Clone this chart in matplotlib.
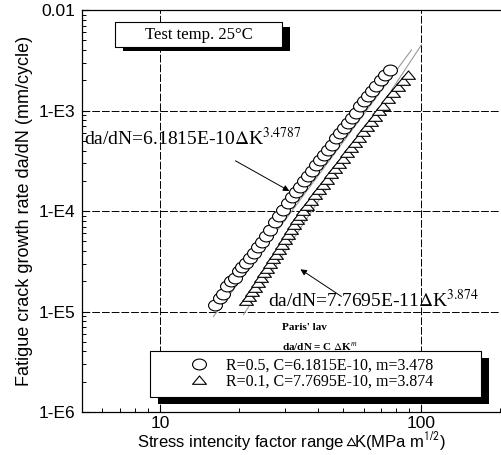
import matplotlib
matplotlib.use('Agg')
import matplotlib.pyplot as plt
from matplotlib.path import Path
from matplotlib.transforms import Affine2D
from matplotlib.patches import Rectangle
from matplotlib.lines import Line2D
from matplotlib.ticker import FixedLocator, FixedFormatter, LogLocator, NullFormatter

# R=0.5 test points (circles)
dk_r05 = [16.25, 16.98, 17.44, 18.06, 18.71, 19.39, 20.08, 20.62, 21.36, 22.12,
          22.92, 23.75, 24.60, 25.48, 26.40, 27.58, 28.58, 29.60, 30.93, 32.04,
          33.19, 34.39, 35.62, 36.90, 38.23, 39.60, 41.02, 42.50, 44.03, 45.60,
          47.24, 48.94, 50.70, 52.52, 54.40, 56.36, 58.39, 60.48, 62.66, 64.91,
          67.24, 70.27, 72.79, 76.06]
rate_r05 = [1.17e-5, 1.35e-5, 1.51e-5, 1.78e-5, 2.00e-5, 2.14e-5, 2.51e-5, 2.75e-5, 3.02e-5, 3.39e-5,
            3.80e-5, 4.37e-5, 4.90e-5, 5.62e-5, 6.46e-5, 7.76e-5, 8.91e-5, 1.02e-4, 1.20e-4, 1.38e-4,
            1.55e-4, 1.74e-4, 2.00e-4, 2.24e-4, 2.51e-4, 2.88e-4, 3.24e-4, 3.63e-4, 4.07e-4, 4.57e-4,
            5.37e-4, 6.03e-4, 6.76e-4, 7.59e-4, 8.51e-4, 9.55e-4, 1.10e-3, 1.23e-3, 1.38e-3, 1.55e-3,
            1.74e-3, 2.00e-3, 2.24e-3, 2.51e-3]

# R=0.1 test points (triangles)
dk_r01 = [21.36, 21.93, 22.52, 23.12, 23.75, 24.38, 25.03, 25.70, 26.40, 27.10,
          27.83, 28.58, 29.34, 30.13, 30.93, 31.76, 32.61, 33.49, 34.39, 35.31,
          36.58, 37.89, 39.26, 40.66, 42.12, 43.63, 45.20, 46.82, 48.51, 50.25,
          52.05, 53.92, 55.86, 57.87, 59.95, 62.10, 64.33, 66.64, 69.04, 71.51,
          74.73, 78.10, 81.63, 85.31, 89.17]
rate_r01 = [1.26e-5, 1.38e-5, 1.55e-5, 1.70e-5, 1.91e-5, 2.14e-5, 2.40e-5, 2.63e-5, 2.95e-5, 3.31e-5,
            3.63e-5, 4.07e-5, 4.57e-5, 5.13e-5, 5.75e-5, 6.46e-5, 7.24e-5, 8.13e-5, 8.91e-5, 1.00e-4,
            1.12e-4, 1.26e-4, 1.45e-4, 1.62e-4, 1.82e-4, 2.04e-4, 2.34e-4, 2.63e-4, 2.95e-4, 3.31e-4,
            3.80e-4, 4.27e-4, 4.79e-4, 5.37e-4, 6.17e-4, 6.92e-4, 7.76e-4, 8.71e-4, 1.00e-3, 1.12e-3,
            1.29e-3, 1.48e-3, 1.70e-3, 1.95e-3, 2.24e-3]

# fitted Paris-law lines (end points)
fit_r05_dk = [15.96, 91.6]
fit_r05_rate = [8.9e-6, 4.0e-3]
fit_r01_dk = [20.8, 100.0]
fit_r01_rate = [9.3e-6, 4.5e-3]

xtick_vals = [10, 100]
xtick_labels = ['10', '100']
ytick_vals = [1e-6, 1e-5, 1e-4, 1e-3, 1e-2]
ytick_labels = ['1-E6', '1-E5', '1-E4', '1-E3', '0.01']

legend_labels = ['R=0.5, C=6.1815E-10, m=3.478', 'R=0.1, C=7.7695E-10, m=3.874']

plt.rcParams['mathtext.fontset'] = 'stix'
sans = ['Liberation Sans', 'DejaVu Sans']
serif = ['Liberation Serif', 'DejaVu Serif']

# open markers: squashed ellipse and flat triangle
ell = Path.unit_circle().transformed(Affine2D().scale(1.0, 0.78))
tri = Path([(-1, -0.55), (1, -0.55), (0, 0.65), (-1, -0.55)],
           [Path.MOVETO, Path.LINETO, Path.LINETO, Path.CLOSEPOLY])

fig = plt.figure(figsize=(5.02, 4.55), dpi=100)
ax = fig.add_axes([0.163, 0.0945, 0.833, 0.8835])

ax.plot(fit_r05_dk, fit_r05_rate, color='#9a9a9a', lw=0.8, zorder=2)
ax.plot(fit_r01_dk, fit_r01_rate, color='#9a9a9a', lw=0.8, zorder=2)
ax.plot(dk_r01, rate_r01, ls='none', marker=tri, ms=10, mfc='white', mec='black', mew=0.8, zorder=3)
ax.plot(dk_r05, rate_r05, ls='none', marker=ell, ms=10, mfc='white', mec='black', mew=0.8, zorder=4)

ax.set_xscale('log')
ax.set_yscale('log')
ax.set_xlim(5, 200)
ax.set_ylim(1e-6, 1e-2)

ax.xaxis.set_major_locator(FixedLocator(xtick_vals))
ax.xaxis.set_major_formatter(FixedFormatter(xtick_labels))
ax.yaxis.set_major_locator(FixedLocator(ytick_vals))
ax.yaxis.set_major_formatter(FixedFormatter(ytick_labels))
ax.xaxis.set_minor_locator(LogLocator(base=10, subs=range(2, 10)))
ax.yaxis.set_minor_locator(LogLocator(base=10, subs=range(2, 10)))
ax.xaxis.set_minor_formatter(NullFormatter())
ax.yaxis.set_minor_formatter(NullFormatter())
ax.tick_params(which='major', direction='in', length=5, width=0.8, pad=5)
ax.tick_params(axis='x', which='major', pad=3)
ax.tick_params(which='minor', direction='in', length=3, width=0.7)
for lab in ax.get_xticklabels() + ax.get_yticklabels():
    lab.set_family(sans)
    lab.set_fontsize(12.5)

ax.grid(which='major', color='black', lw=0.7, ls=(0, (8, 2)))
ax.spines['right'].set_visible(False)
for s in ['left', 'bottom', 'top']:
    ax.spines[s].set_linewidth(0.9)

ax.set_xlabel('Stress intencity factor range$\\,\\vartriangle\\!$K(MPa m$^{\\mathsf{1/2}}$)',
              family=sans, fontsize=12, labelpad=-1)
ax.set_ylabel('Fatigue crack growth rate da/dN (mm/cycle)',
              family=sans, fontsize=13, labelpad=4)

# test temperature box with shadow
ax.add_patch(Rectangle((0.098, 0.897), 0.40, 0.060, transform=ax.transAxes,
                       facecolor='black', edgecolor='none', zorder=6))
ax.add_patch(Rectangle((0.079, 0.909), 0.40, 0.060, transform=ax.transAxes,
                       facecolor='white', edgecolor='black', lw=0.8, zorder=7))
ax.text(0.279, 0.939, 'Test temp. 25\u00b0C', transform=ax.transAxes, family=serif,
        fontsize=12, ha='center', va='center', zorder=8)

# equation labels and arrows
ax.text(0.005, 0.682, 'da/dN=6.1815E-10$\\Delta$K$^{3.4787}$', transform=ax.transAxes,
        family=serif, fontsize=14, ha='left', va='center', zorder=6)
ax.annotate('', xy=(31.2, 1.58e-4), xytext=(19.39, 3.16e-4),
            arrowprops=dict(arrowstyle='-|>', color='black', lw=0.7, mutation_scale=9,
                            shrinkA=0, shrinkB=0), zorder=6)
ax.text(0.445, 0.279, 'da/dN=7.7695E-11$\\Delta$K$^{3.874}$', transform=ax.transAxes,
        family=serif, fontsize=14, ha='left', va='center', zorder=6)
ax.annotate('', xy=(34.39, 2.63e-5), xytext=(49.4, 1.41e-5),
            arrowprops=dict(arrowstyle='-|>', color='black', lw=0.7, mutation_scale=9,
                            shrinkA=0, shrinkB=0), zorder=6)
ax.text(0.478, 0.211, "Paris' lav", transform=ax.transAxes, family=serif,
        fontsize=8, weight='bold', ha='left', va='center')
ax.text(0.478, 0.162, 'da/dN = C $\\Delta$K$^{m}$', transform=ax.transAxes, family=serif,
        fontsize=8, weight='bold', ha='left', va='center')

# legend with a heavy black shadow
handles = [Line2D([], [], ls='none', marker=ell, ms=10, mfc='white', mec='black', mew=0.8),
           Line2D([], [], ls='none', marker=tri, ms=10, mfc='white', mec='black', mew=0.8)]
leg = ax.legend(handles, legend_labels, loc='lower left',
                bbox_to_anchor=(0.163, 0.037, 0.792, 0.097), mode='expand',
                borderaxespad=0, borderpad=0.45, labelspacing=0.0,
                handlelength=5.2, handletextpad=-0.9, fancybox=False,
                framealpha=1, edgecolor='black',
                prop={'family': serif, 'size': 11.5})
leg.get_frame().set_linewidth(0.8)
leg.set_zorder(8)

fig.canvas.draw()
bb = leg.get_window_extent(fig.canvas.get_renderer()).transformed(ax.transAxes.inverted())
ax.add_patch(Rectangle((bb.x0 + 8 / 418, bb.y0 - 7 / 402), bb.width, bb.height,
                       transform=ax.transAxes, facecolor='black', edgecolor='none',
                       zorder=7.5, clip_on=False))

fig.savefig('out.png', dpi=100)
